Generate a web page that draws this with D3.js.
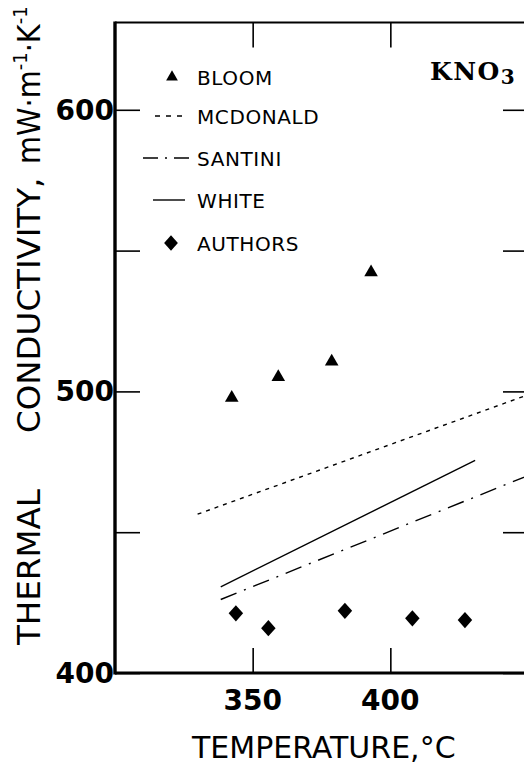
<!DOCTYPE html>
<html>
<head>
<meta charset="utf-8">
<script src="https://cdn.jsdelivr.net/npm/d3@7"></script>
<style>
  body { margin: 0; background: #fff; }
  svg { display: block; }
</style>
</head>
<body>
<div id="wrapper"></div>
<script>
// values
const bloomTemp = [342.4, 359.3, 378.7, 393.0];
const bloomK = [497.7, 505.1, 510.6, 542.3];

const authorsTemp = [343.9, 355.7, 383.5, 408.0, 427.1];
const authorsK = [421.2, 415.9, 422.1, 419.4, 418.8];

const mcdonaldTemp = [330, 450];
const mcdonaldK = [456.4, 498.8];

const santiniTemp = [338.4, 450];
const santiniK = [426.1, 470.1];

const whiteTemp = [338.4, 430.8];
const whiteK = [430.6, 475.5];

const xTicks = [350, 400, 450];
const xTickLabels = ["350", "400"];
const yTicks = [400, 450, 500, 550, 600];
const yTickLabels = ["400", "500", "600"];

const legendNames = ["BLOOM", "MCDONALD", "SANTINI", "WHITE", "AUTHORS"];

function drawChart() {
    var dimensions = {
        width: 524,
        height: 767,
        margin: { top: 22.5, right: -4, bottom: 94, left: 115 },
    }
    dimensions.boundedWidth = dimensions.width - dimensions.margin.left - dimensions.margin.right
    dimensions.boundedHeight = dimensions.height - dimensions.margin.top - dimensions.margin.bottom

    const svg = d3.select("#wrapper").html("")
        .append("svg")
        .attr("width", dimensions.width)
        .attr("height", dimensions.height);

    const bounds = svg.append("g")
        .attr("transform", `translate(${dimensions.margin.left},${dimensions.margin.top})`);

    const xScale = d3.scaleLinear()
        .domain([300, 450])
        .range([0, dimensions.boundedWidth]);

    const yScale = d3.scaleLinear()
        .domain([400, 631])
        .range([dimensions.boundedHeight, 0]);

    const W = dimensions.boundedWidth, H = dimensions.boundedHeight;
    const tickLen = 25;

    // frame
    bounds.append("line").attr("x1", 0).attr("x2", W).attr("y1", 0).attr("y2", 0)
        .attr("stroke", "#000").attr("stroke-width", 2.2);
    bounds.append("line").attr("x1", W).attr("x2", W).attr("y1", 0).attr("y2", H)
        .attr("stroke", "#000").attr("stroke-width", 2.2);

    // inward ticks with d3 axes
    const bottomAxis = d3.axisTop(xScale).tickValues(xTicks).tickSize(tickLen).tickFormat("");
    const topAxis = d3.axisBottom(xScale).tickValues(xTicks).tickSize(tickLen).tickFormat("");
    const leftAxis = d3.axisRight(yScale).tickValues(yTicks).tickSize(tickLen).tickFormat("");
    const rightAxis = d3.axisLeft(yScale).tickValues(yTicks).tickSize(tickLen).tickFormat("");

    [[bottomAxis, `translate(0,${H})`], [topAxis, "translate(0,0)"],
     [leftAxis, "translate(0,0)"], [rightAxis, `translate(${W},0)`]].forEach(([ax, tr]) => {
        const g = bounds.append("g").attr("transform", tr).call(ax);
        g.select(".domain").remove();
        g.selectAll(".tick line").attr("stroke", "#000").attr("stroke-width", 1.6);
    });

    bounds.append("line").attr("x1", 0).attr("x2", W).attr("y1", H).attr("y2", H)
        .attr("stroke", "#000").attr("stroke-width", 3);
    bounds.append("line").attr("x1", 0).attr("x2", 0).attr("y1", -1).attr("y2", H + 1.5)
        .attr("stroke", "#000").attr("stroke-width", 3.4);

    // tick labels
    bounds.append("g").selectAll("text")
        .data(xTickLabels)
        .join("text")
        .attr("x", d => xScale(+d))
        .attr("y", H + 37)
        .attr("text-anchor", "middle")
        .attr("font-family", "DejaVu Sans")
        .attr("font-weight", "bold")
        .attr("font-size", "28px")
        .text(d => d);

    bounds.append("g").selectAll("text")
        .data(yTickLabels)
        .join("text")
        .attr("x", -1)
        .attr("y", d => yScale(+d) + 10)
        .attr("text-anchor", "end")
        .attr("font-family", "DejaVu Sans")
        .attr("font-weight", "bold")
        .attr("font-size", "28px")
        .text(d => d);

    // axis titles
    svg.append("text")
        .attr("x", 192)
        .attr("y", 758)
        .attr("font-family", "DejaVu Sans")
        .attr("font-size", "30px")
        .text("TEMPERATURE,°C");

    svg.append("text")
        .attr("transform", "translate(40,645) rotate(-90)")
        .attr("font-family", "DejaVu Sans")
        .attr("font-size", "32.5px")
        .text("THERMAL");

    svg.append("text")
        .attr("transform", "translate(40,433) rotate(-90)")
        .attr("font-family", "DejaVu Sans")
        .attr("font-size", "32.5px")
        .text("CONDUCTIVITY,");

    // unit, narrower face so it fits above the comma like the original
    const unit = svg.append("text")
        .attr("transform", "translate(40,164) rotate(-90)")
        .attr("font-family", "DejaVu Sans Condensed")
        .attr("font-size", "32px");
    unit.append("tspan").text("mW·m");
    unit.append("tspan").attr("dy", -13).attr("font-size", "20px").text("-1");
    unit.append("tspan").attr("dy", 13).text("·K");
    unit.append("tspan").attr("dy", -13).attr("font-size", "20px").text("-1");

    // lines
    const line = d3.line().x(d => xScale(d[0])).y(d => yScale(d[1]));
    const lineSeries = [
        { t: mcdonaldTemp, k: mcdonaldK, dash: "4,5" },
        { t: santiniTemp, k: santiniK, dash: "17,8,2,8" },
        { t: whiteTemp, k: whiteK, dash: null },
    ];
    bounds.append("g").selectAll("path")
        .data(lineSeries)
        .join("path")
        .attr("d", d => line(d3.zip(d.t, d.k)))
        .attr("fill", "none")
        .attr("stroke", "#000")
        .attr("stroke-width", 1.4)
        .attr("stroke-dasharray", d => d.dash);

    // markers
    const tri = d3.symbol().type(d3.symbolTriangle).size(80);
    bounds.append("g").selectAll("path")
        .data(d3.zip(bloomTemp, bloomK))
        .join("path")
        .attr("d", tri)
        .attr("transform", d => `translate(${xScale(d[0])},${yScale(d[1])})`)
        .attr("fill", "#000");

    const dia = d3.symbol().type(d3.symbolSquare).size(105);
    bounds.append("g").selectAll("path")
        .data(d3.zip(authorsTemp, authorsK))
        .join("path")
        .attr("d", dia)
        .attr("transform", d => `translate(${xScale(d[0])},${yScale(d[1])}) scale(1,1.12) rotate(45)`)
        .attr("fill", "#000");

    // legend
    const legendY = [77, 116, 158, 200, 243];
    const legend = svg.append("g");
    legend.selectAll("text")
        .data(legendNames)
        .join("text")
        .attr("x", 197)
        .attr("y", (d, i) => legendY[i] + 7.5)
        .attr("font-family", "DejaVu Sans")
        .attr("font-size", "20px")
        .attr("letter-spacing", "0.6px")
        .text(d => d);

    legend.append("path").attr("d", d3.symbol().type(d3.symbolTriangle).size(60))
        .attr("transform", `translate(172,${legendY[0]})`).attr("fill", "#000");
    legend.append("line").attr("x1", 155).attr("x2", 184).attr("y1", legendY[1]).attr("y2", legendY[1])
        .attr("stroke", "#000").attr("stroke-width", 1.4).attr("stroke-dasharray", "5,6");
    legend.append("line").attr("x1", 143).attr("x2", 192).attr("y1", legendY[2]).attr("y2", legendY[2])
        .attr("stroke", "#000").attr("stroke-width", 1.4).attr("stroke-dasharray", "15,7,2,7");
    legend.append("line").attr("x1", 153).attr("x2", 185).attr("y1", legendY[3]).attr("y2", legendY[3])
        .attr("stroke", "#000").attr("stroke-width", 1.4);
    legend.append("path").attr("d", d3.symbol().type(d3.symbolSquare).size(95))
        .attr("transform", `translate(171,${legendY[4]}) scale(1,1.12) rotate(45)`).attr("fill", "#000");

    // compound label
    const kno = svg.append("text")
        .attr("x", 430)
        .attr("y", 80)
        .attr("font-family", "DejaVu Serif")
        .attr("font-weight", "bold")
        .attr("font-size", "25px")
        .attr("letter-spacing", "1.5px")
        .text("KNO");
    kno.append("tspan")
        .attr("dy", 4)
        .attr("font-size", "20px")
        .text("3");
}

drawChart();
</script>
</body>
</html>
